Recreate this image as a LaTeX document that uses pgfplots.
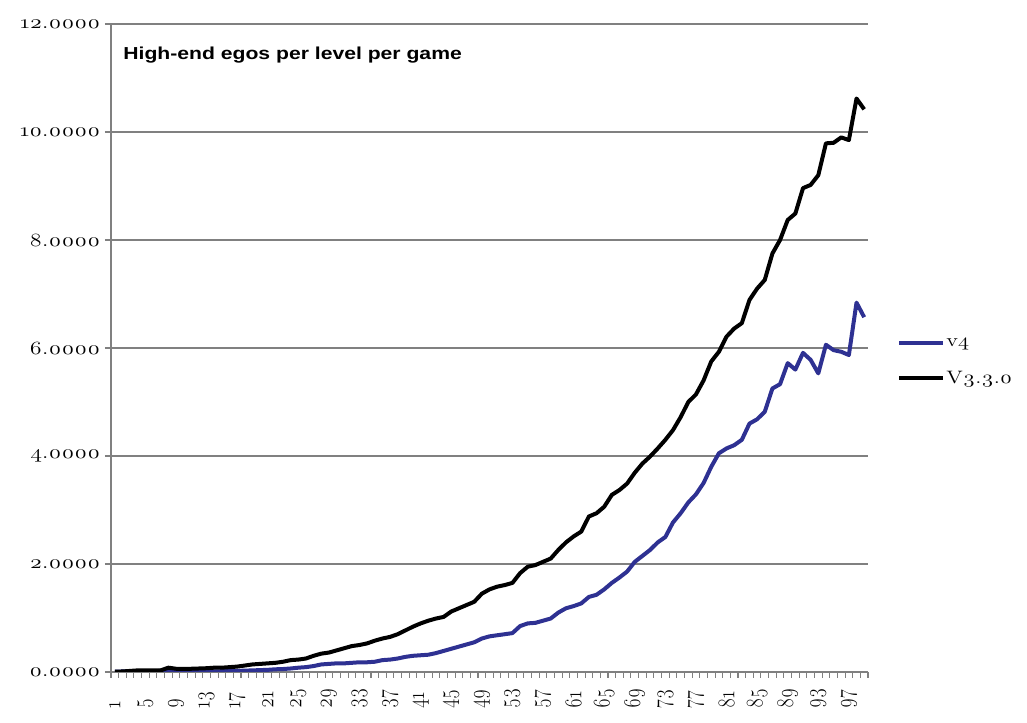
\documentclass[border=0pt]{standalone}
\usepackage{fontspec}
\setmainfont{Latin Modern Roman}[Numbers=OldStyle, FakeStretch=1.25]
\newfontfamily\xlabfont{Latin Modern Roman}[Numbers=OldStyle, FakeStretch=0.8]
\newfontfamily\arial{Liberation Sans}[FakeStretch=1.22]
\usepackage{pgfplots}
\pgfplotsset{compat=1.18}
\definecolor{vblue}{RGB}{46,49,146}
\definecolor{axgray}{RGB}{128,128,128}
\begin{document}
\begin{tikzpicture}[x=1pt,y=1pt]
\useasboundingbox (-83.25pt,-38.25pt) rectangle (687pt,504pt);
\begin{axis}[
  scale only axis,
  width=567.75pt, height=486pt,
  xmin=0.5, xmax=99.5, ymin=0, ymax=12,
  axis lines*=left,
  axis line style={axgray, line width=0.8pt},
  ytick={0,2,...,12},
  ymajorgrids,
  grid style={axgray, line width=0.8pt},
  xtick={1,5,...,97},
  minor xtick={0.5,1.5,...,99.5},
  major x tick style={draw=none},
  tick style={axgray, line width=0.8pt},
  tick align=outside,
  major tick length=4.5pt,
  minor tick length=4.5pt,
  /pgf/number format/assume math mode=true,
  yticklabel style={font=\fontsize{14}{16}\selectfont, /pgf/number format/.cd, fixed, fixed zerofill, precision=4},
  xticklabel style={font=\xlabfont\fontsize{18}{20}\selectfont, rotate=90, anchor=west, xshift=-26.5pt},
  legend style={at={(axis description cs:1.038,0.479)}, anchor=west, draw=none, fill=none,
    font=\fontsize{13.5}{16}\selectfont, row sep=15pt, inner sep=0pt,
    nodes={inner sep=1pt}},
  legend cell align=left,
  legend image code/.code={\draw[#1] (0pt,0pt) -- (33pt,0pt);},
  every axis plot/.append style={line width=3pt, line join=round},
]
\addplot[vblue] coordinates {
(1,0.005)(2,0.01)(3,0.01)(4,0.015)(5,0.015)(6,0.015)(7,0.02)(8,0.02)(9,0.01)(10,0.005)
(11,0.005)(12,0.005)(13,0.01)(14,0.01)(15,0.015)(16,0.02)(17,0.02)(18,0.025)(19,0.03)(20,0.035)
(21,0.04)(22,0.05)(23,0.055)(24,0.065)(25,0.08)(26,0.09)(27,0.11)(28,0.14)(29,0.15)(30,0.16)
(31,0.16)(32,0.17)(33,0.18)(34,0.18)(35,0.19)(36,0.22)(37,0.23)(38,0.25)(39,0.28)(40,0.30)
(41,0.31)(42,0.32)(43,0.35)(44,0.39)(45,0.43)(46,0.47)(47,0.51)(48,0.55)(49,0.62)(50,0.66)
(51,0.68)(52,0.70)(53,0.72)(54,0.85)(55,0.90)(56,0.91)(57,0.95)(58,0.99)(59,1.10)(60,1.18)
(61,1.22)(62,1.27)(63,1.39)(64,1.43)(65,1.53)(66,1.65)(67,1.75)(68,1.86)(69,2.04)(70,2.15)
(71,2.26)(72,2.40)(73,2.50)(74,2.77)(75,2.94)(76,3.14)(77,3.29)(78,3.50)(79,3.80)(80,4.05)
(81,4.14)(82,4.20)(83,4.30)(84,4.60)(85,4.68)(86,4.82)(87,5.25)(88,5.33)(89,5.72)(90,5.60)
(91,5.91)(92,5.78)(93,5.53)(94,6.06)(95,5.96)(96,5.93)(97,5.87)(98,6.84)(99,6.57)
};
\addlegendentry{v4}
\addplot[black] coordinates {
(1,0.005)(2,0.01)(3,0.02)(4,0.03)(5,0.03)(6,0.03)(7,0.03)(8,0.08)(9,0.06)(10,0.06)
(11,0.06)(12,0.065)(13,0.07)(14,0.08)(15,0.08)(16,0.09)(17,0.10)(18,0.12)(19,0.14)(20,0.15)
(21,0.16)(22,0.17)(23,0.19)(24,0.22)(25,0.23)(26,0.25)(27,0.30)(28,0.34)(29,0.36)(30,0.40)
(31,0.44)(32,0.48)(33,0.50)(34,0.53)(35,0.58)(36,0.62)(37,0.65)(38,0.70)(39,0.77)(40,0.84)
(41,0.90)(42,0.95)(43,0.99)(44,1.02)(45,1.12)(46,1.18)(47,1.24)(48,1.30)(49,1.45)(50,1.53)
(51,1.58)(52,1.61)(53,1.65)(54,1.83)(55,1.95)(56,1.98)(57,2.04)(58,2.10)(59,2.26)(60,2.40)
(61,2.51)(62,2.60)(63,2.88)(64,2.94)(65,3.06)(66,3.28)(67,3.37)(68,3.49)(69,3.69)(70,3.86)
(71,3.99)(72,4.14)(73,4.30)(74,4.48)(75,4.72)(76,5.00)(77,5.14)(78,5.40)(79,5.75)(80,5.93)
(81,6.21)(82,6.36)(83,6.46)(84,6.89)(85,7.10)(86,7.26)(87,7.75)(88,8.00)(89,8.37)(90,8.49)
(91,8.96)(92,9.02)(93,9.20)(94,9.79)(95,9.80)(96,9.90)(97,9.85)(98,10.62)(99,10.42)
};
\addlegendentry{V3.3.0}
\node[anchor=west, inner sep=0pt] at (rel axis cs:0.016,0.952) {\arial\bfseries\fontsize{13}{15}\selectfont High-end egos per level per game};
\end{axis}
\end{tikzpicture}
\end{document}
